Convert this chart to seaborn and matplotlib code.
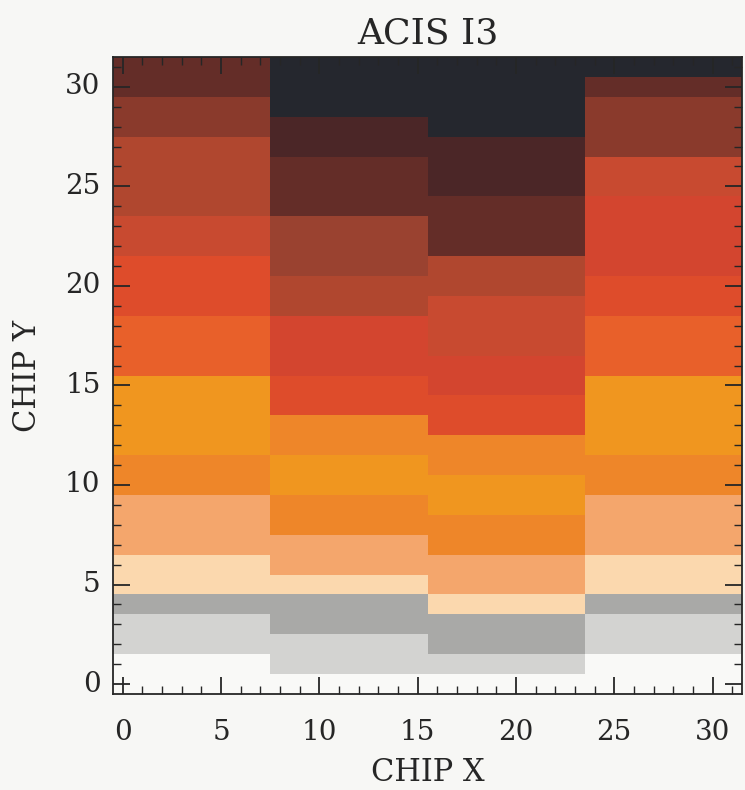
import numpy as np
import pandas as pd
import matplotlib
matplotlib.use("Agg")
import matplotlib.pyplot as plt
import seaborn as sns
from matplotlib.colors import ListedColormap

# ---- data -------------------------------------------------------------
# colour of each level (discrete colour table, low -> high)
level_colors = [
    "#f9f9f7",  # 0 white
    "#d3d3d1",  # 1 light gray
    "#a9a9a7",  # 2 gray
    "#fbd8ae",  # 3 peach
    "#f4a66c",  # 4 light orange
    "#ee8629",  # 5 orange
    "#f0961f",  # 6 yellow-orange
    "#e8602a",  # 7 orange-red
    "#de4c2b",  # 8 red-orange
    "#d3452f",  # 9 red
    "#c84a30",  # 10 red-brown
    "#b0472f",  # 11 reddish brown
    "#9a4230",  # 12 brown-red
    "#8a3a2c",  # 13 brown
    "#642d28",  # 14 dark brown
    "#4b2627",  # 15 darker brown
    "#25272e",  # 16 black
]

chip_x = list(range(32))
chip_y = list(range(32))

# level per CHIP Y row (0..31) for each 8-column block of CHIP X
block_x0_7 = [0, 0, 1, 1, 2, 3, 3, 4, 4, 4, 5, 5, 6, 6, 6, 6,
              7, 7, 7, 8, 8, 8, 10, 10, 11, 11, 11, 11, 13, 13, 14, 14]
block_x8_15 = [0, 1, 1, 2, 2, 3, 4, 4, 5, 5, 6, 6, 5, 5, 8, 8,
               9, 9, 9, 11, 11, 12, 12, 12, 14, 14, 14, 15, 15, 16, 16, 16]
block_x16_23 = [0, 1, 2, 2, 3, 4, 4, 5, 5, 6, 6, 5, 5, 8, 8, 9,
                9, 10, 10, 10, 11, 11, 14, 14, 14, 15, 15, 15, 16, 16, 16, 16]
block_x24_31 = [0, 0, 1, 1, 2, 3, 3, 4, 4, 4, 5, 5, 6, 6, 6, 6,
                7, 7, 7, 8, 8, 9, 9, 9, 9, 10, 10, 13, 13, 13, 14, 16]

x_ticks = [0, 5, 10, 15, 20, 25, 30]
y_ticks = [0, 5, 10, 15, 20, 25, 30]

blocks = [block_x0_7, block_x8_15, block_x16_23, block_x24_31]
grid = np.column_stack([np.array(b) for b in blocks for _ in range(8)])
df = pd.DataFrame(grid, index=chip_y, columns=chip_x)

# ---- plot -------------------------------------------------------------
sns.set_theme(style="white")
plt.rcParams["font.family"] = ["DejaVu Serif", "DejaVu Sans"]

bg = "#f7f7f5"
ink = "#262626"
fig = plt.figure(figsize=(7.45, 7.90), dpi=100, facecolor=bg)
ax = fig.add_axes([113 / 745, 1 - 694 / 790, 629 / 745, 637 / 790])

cmap = ListedColormap(level_colors)
sns.heatmap(df, cmap=cmap, vmin=-0.5, vmax=len(level_colors) - 0.5,
            cbar=False, ax=ax, linewidths=0)

ax.set_axisbelow(False)
ax.set_xlim(0, 32)
ax.set_ylim(0, 32)

ax.set_xticks([t + 0.5 for t in x_ticks])
ax.set_xticklabels([str(t) for t in x_ticks], rotation=0)
ax.set_yticks([t + 0.5 for t in y_ticks])
ax.set_yticklabels([str(t) for t in y_ticks], rotation=0)
ax.set_xticks([i + 0.5 for i in chip_x], minor=True)
ax.set_yticks([i + 0.5 for i in chip_y], minor=True)

for s in ax.spines.values():
    s.set_visible(True)
    s.set_linewidth(1.3)
    s.set_color(ink)
    s.set_zorder(5)

ax.tick_params(which="both", direction="in", top=True, right=True,
               bottom=True, left=True, labeltop=False, labelright=False,
               color=ink)
ax.tick_params(which="major", length=12, width=1.3, labelsize=20,
               labelcolor=ink)
ax.tick_params(which="minor", length=6, width=1.0)
ax.tick_params(axis="x", which="major", pad=18)
ax.tick_params(axis="y", which="major", pad=9)
for axis in (ax.xaxis, ax.yaxis):
    axis.set_zorder(4)

ax.set_xlabel("CHIP X", fontsize=22, color=ink, labelpad=8)
ax.set_ylabel("CHIP Y", fontsize=22, color=ink, labelpad=16)
ax.set_title("ACIS I3", fontsize=26, color=ink, pad=10)

fig.savefig("out.png", dpi=100, facecolor=bg)
